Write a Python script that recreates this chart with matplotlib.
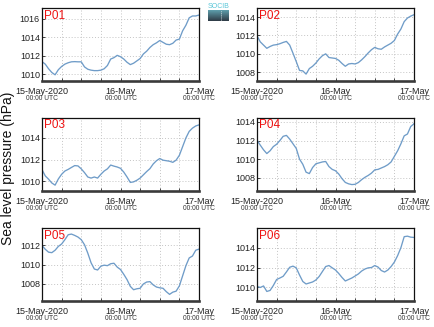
import numpy as np
import pandas as pd
import matplotlib
matplotlib.use("Agg")
import matplotlib.pyplot as plt
import matplotlib.dates as mdates

plt.rcParams['font.family'] = ['Liberation Sans', 'DejaVu Sans']

# hourly sea level pressure (hPa), 15-May-2020 00:00 to 17-May 00:00 UTC
times = pd.date_range("2020-05-15 00:00", "2020-05-17 00:00", freq="h")

p01 = [1011.37, 1011.1, 1010.6, 1010.2, 1009.95, 1010.5, 1010.85, 1011.1, 1011.25, 1011.35,
       1011.37, 1011.35, 1011.35, 1010.8, 1010.55, 1010.45, 1010.4, 1010.4, 1010.45, 1010.6,
       1010.95, 1011.65, 1011.8, 1012.05, 1011.9, 1011.65, 1011.3, 1011.05, 1011.2, 1011.45,
       1011.7, 1012.2, 1012.5, 1012.9, 1013.2, 1013.4, 1013.65, 1013.45, 1013.25, 1013.2,
       1013.35, 1013.7, 1013.8, 1014.7, 1015.3, 1016.1, 1016.3, 1016.3, 1016.4]
p02 = [1011.96, 1011.3, 1010.95, 1010.6, 1010.8, 1010.95, 1011.0, 1011.1, 1011.24, 1011.35,
       1010.95, 1010.07, 1009.16, 1008.2, 1008.15, 1007.8, 1008.4, 1008.65, 1009.0, 1009.45,
       1009.8, 1010.0, 1009.6, 1009.55, 1009.5, 1009.3, 1008.95, 1008.65, 1008.9, 1008.95,
       1008.9, 1009.05, 1009.35, 1009.7, 1010.1, 1010.45, 1010.7, 1010.55, 1010.5, 1010.75,
       1010.95, 1011.15, 1011.45, 1012.15, 1012.7, 1013.5, 1013.89, 1014.1, 1014.25]
p03 = [1011.08, 1010.5, 1010.2, 1009.85, 1009.65, 1010.22, 1010.65, 1010.95, 1011.1, 1011.28,
       1011.45, 1011.42, 1011.15, 1010.8, 1010.4, 1010.3, 1010.4, 1010.3, 1010.65, 1010.95,
       1011.15, 1011.5, 1011.4, 1011.32, 1011.2, 1010.85, 1010.4, 1009.9, 1009.95, 1010.1,
       1010.3, 1010.6, 1010.9, 1011.17, 1011.6, 1011.9, 1012.1, 1011.95, 1011.9, 1011.85,
       1011.75, 1011.95, 1012.4, 1013.2, 1014.0, 1014.6, 1014.9, 1015.1, 1015.2]
p04 = [1012.04, 1011.5, 1011.0, 1010.6, 1010.9, 1011.35, 1011.6, 1012.0, 1012.45, 1012.55,
       1012.15, 1011.65, 1011.15, 1010.0, 1009.45, 1008.6, 1008.45, 1009.1, 1009.5, 1009.6,
       1009.7, 1009.75, 1009.2, 1008.9, 1008.75, 1008.4, 1007.9, 1007.5, 1007.35, 1007.27,
       1007.3, 1007.5, 1007.8, 1008.05, 1008.25, 1008.5, 1008.85, 1008.9, 1009.05, 1009.2,
       1009.4, 1009.7, 1010.3, 1010.9, 1011.65, 1012.5, 1012.7, 1013.5, 1013.8]
p05 = [1012.0, 1011.6, 1011.3, 1011.25, 1011.5, 1011.9, 1012.15, 1012.6, 1013.11, 1013.18,
       1013.04, 1012.87, 1012.6, 1012.07, 1011.2, 1010.2, 1009.55, 1009.45, 1009.85, 1009.95,
       1009.9, 1010.1, 1010.15, 1009.75, 1009.5, 1009.0, 1008.45, 1007.75, 1007.4, 1007.5,
       1007.55, 1008.0, 1008.2, 1008.24, 1007.9, 1007.68, 1007.6, 1007.55, 1007.2, 1006.92,
       1007.15, 1007.25, 1007.8, 1008.85, 1009.9, 1010.7, 1010.9, 1011.5, 1011.62]
p06 = [1010.1, 1010.0, 1010.15, 1009.6, 1009.7, 1010.2, 1010.8, 1010.95, 1011.12, 1011.56,
       1012.03, 1012.14, 1011.97, 1011.25, 1010.6, 1010.35, 1010.45, 1010.55, 1010.75, 1011.1,
       1011.6, 1012.1, 1012.2, 1011.97, 1011.75, 1011.4, 1011.0, 1010.65, 1010.8, 1010.95,
       1011.15, 1011.36, 1011.65, 1011.85, 1011.97, 1012.0, 1012.2, 1012.05, 1011.7, 1011.55,
       1011.75, 1012.1, 1012.55, 1013.2, 1014.0, 1015.1, 1015.15, 1015.05, 1015.02]

stations = ["P01", "P02", "P03", "P04", "P05", "P06"]
series = [p01, p02, p03, p04, p05, p06]
ylims = [(1009.28, 1017.16), (1007.05, 1014.98), (1009.11, 1015.88),
         (1006.58, 1014.47), (1006.23, 1013.81), (1008.64, 1015.97)]

W, H = 434, 327
fig = plt.figure(figsize=(W / 100, H / 100), dpi=100)

# panel boxes in pixels: left, top, right, bottom
cols = [(42, 199), (257, 414)]
rows = [(8, 81), (117.5, 191), (228, 301)]

line_color = "#6f9cc8"
grid_kw = dict(color="#c4c4c4", linestyle=(0, (1, 2)), linewidth=0.7)

for i, (name, vals) in enumerate(zip(stations, series)):
    x0, x1 = cols[i % 2]
    y0, y1 = rows[i // 2]
    ax = fig.add_axes([x0 / W, 1 - y1 / H, (x1 - x0) / W, (y1 - y0) / H])
    ax.plot(times, vals, color=line_color, linewidth=0.95)
    ax.set_xlim(times[0], times[-1])
    ax.set_ylim(*ylims[i])

    ax.xaxis.set_minor_locator(mdates.HourLocator(byhour=[6, 12, 18]))
    ticks = mdates.date2num([times[0], times[24], times[48]])
    ax.set_xticks(ticks)
    ax.set_xticklabels(["15-May-2020", "16-May", "17-May"])
    ax.yaxis.set_major_locator(matplotlib.ticker.MultipleLocator(2))
    ax.yaxis.set_major_formatter(matplotlib.ticker.FormatStrFormatter("%d"))

    ax.grid(True, which="both", axis="x", **grid_kw)
    ax.grid(True, which="major", axis="y", **grid_kw)
    ax.tick_params(axis="both", which="both", direction="in", labelsize=6.5,
                   colors="#222222", length=2, width=0.6, pad=1.5)
    ax.tick_params(axis="x", which="major", pad=4)

    for side in ["top", "left", "right"]:
        ax.spines[side].set_linewidth(0.9)
        ax.spines[side].set_color("#111111")
    ax.spines["bottom"].set_linewidth(1.9)
    ax.spines["bottom"].set_color("#3a3a3a")

    for t in ticks:
        ax.annotate("00:00 UTC", xy=(t, 0), xycoords=("data", "axes fraction"),
                    xytext=(0, -12.6), textcoords="offset points",
                    ha="center", va="center", fontsize=4.8, color="#333333")

    ax.text(0.012, 0.975, name, transform=ax.transAxes, ha="left", va="top",
            fontsize=8.5, color="#ee1111")

fig.text(8 / W, 1 - 168 / H, "Sea level pressure (hPa)", rotation=90,
         ha="center", va="center", fontsize=10, color="#111111")

# small SOCIB badge above the right column
logo = fig.add_axes([208 / W, 1 - 21 / H, 21 / W, 11 / H])
grad = np.linspace(0, 1, 50).reshape(-1, 1)
logo.imshow(grad, aspect="auto", cmap=matplotlib.colors.LinearSegmentedColormap.from_list(
    "badge", ["#5e9eac", "#2f3b46"]), extent=(0, 1, 0, 1))
logo.plot([0.62, 0.62], [0.1, 0.9], color="white", linestyle=(0, (1, 1.5)), linewidth=0.6)
logo.set_xlim(0, 1)
logo.set_ylim(0, 1)
logo.axis("off")
fig.text(218.5 / W, 1 - 6 / H, "SOCIB", ha="center", va="center", fontsize=5,
         color="#58c6d8")

fig.savefig("out.png", dpi=100)
